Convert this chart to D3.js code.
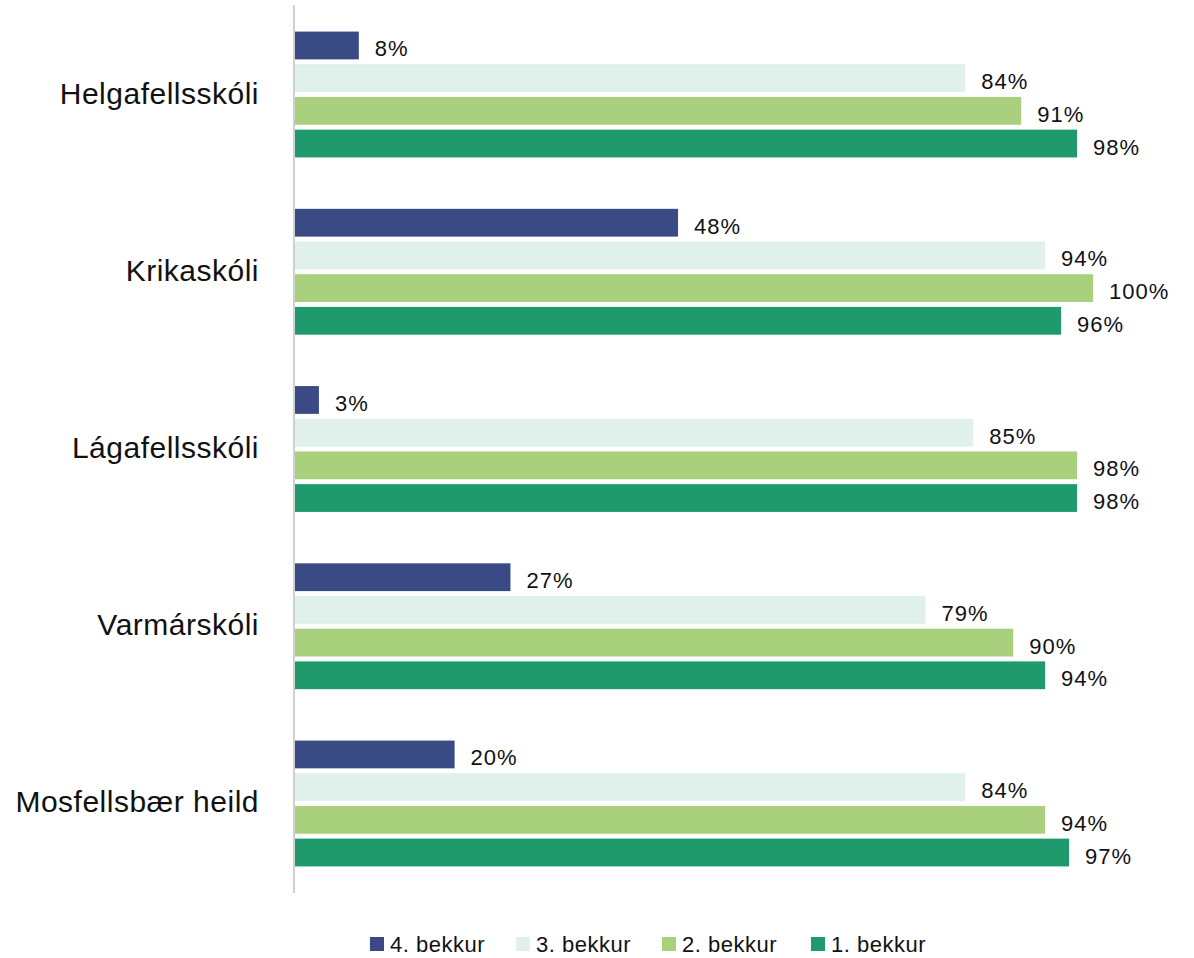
<!DOCTYPE html>
<html>
<head>
<meta charset="utf-8">
<script src="https://cdn.jsdelivr.net/npm/d3@7"></script>
<style>
  body { margin: 0; background: #fff; }
  svg { display: block; font-family: "Liberation Sans", Arial, sans-serif; }
</style>
</head>
<body>
<div id="chart"></div>
<script>
var schools = ["Helgafellsskóli", "Krikaskóli", "Lágafellsskóli", "Varmárskóli", "Mosfellsbær heild"];
var grades = ["4. bekkur", "3. bekkur", "2. bekkur", "1. bekkur"];
var grade4 = [8, 48, 3, 27, 20];
var grade3 = [84, 94, 85, 79, 84];
var grade2 = [91, 100, 98, 90, 94];
var grade1 = [98, 96, 98, 94, 97];
var colors = ["#394a85", "#dff1ea", "#a8d07d", "#1f9a6c"];

var series = [grade4, grade3, grade2, grade1];

var width = 1194, height = 958;
var svg = d3.select("#chart").append("svg")
    .attr("width", width)
    .attr("height", height);

var x = d3.scaleLinear().domain([0, 100]).range([295, 1093]);
var y0 = d3.scaleBand().domain(schools).range([5, 893]).paddingInner(0.29).paddingOuter(0.15);
var y1 = d3.scaleBand().domain(grades).range([0, y0.bandwidth()]).paddingInner(0.15);

var groups = svg.selectAll("g.school")
    .data(schools)
    .enter().append("g")
    .attr("class", "school")
    .attr("transform", function (d) { return "translate(0," + y0(d) + ")"; });

groups.each(function (school, si) {
    var g = d3.select(this);
    grades.forEach(function (grade, gi) {
        var v = series[gi][si];
        g.append("rect")
            .attr("x", x(0))
            .attr("y", y1(grade))
            .attr("width", x(v) - x(0))
            .attr("height", y1.bandwidth())
            .attr("fill", colors[gi]);
        g.append("text")
            .attr("x", x(v) + 16)
            .attr("y", y1(grade) + y1.bandwidth() / 2 + 11)
            .attr("font-size", 22)
            .attr("letter-spacing", 1)
            .attr("fill", "#111")
            .text(v + "%");
    });
});

// category labels
svg.append("g").selectAll("text")
    .data(schools)
    .enter().append("text")
    .attr("x", 259)
    .attr("y", function (d) { return y0(d) + y0.bandwidth() / 2 + 9; })
    .attr("text-anchor", "end")
    .attr("font-size", 30)
    .attr("letter-spacing", 0.5)
    .attr("fill", "#111")
    .text(function (d) { return d; });

// axis line
svg.append("line")
    .attr("x1", 294).attr("x2", 294)
    .attr("y1", 5).attr("y2", 893)
    .attr("stroke", "#d0d0d0")
    .attr("stroke-width", 2);

// legend
var legendX = [370, 516, 662, 811];
var legend = svg.append("g").selectAll("g")
    .data(grades)
    .enter().append("g")
    .attr("transform", function (d, i) { return "translate(" + legendX[i] + ",937)"; });
legend.append("rect")
    .attr("width", 14).attr("height", 14)
    .attr("fill", function (d, i) { return colors[i]; });
legend.append("text")
    .attr("x", 20).attr("y", 15)
    .attr("font-size", 22)
    .attr("letter-spacing", 0.5)
    .attr("fill", "#111")
    .text(function (d) { return d; });
</script>
</body>
</html>
